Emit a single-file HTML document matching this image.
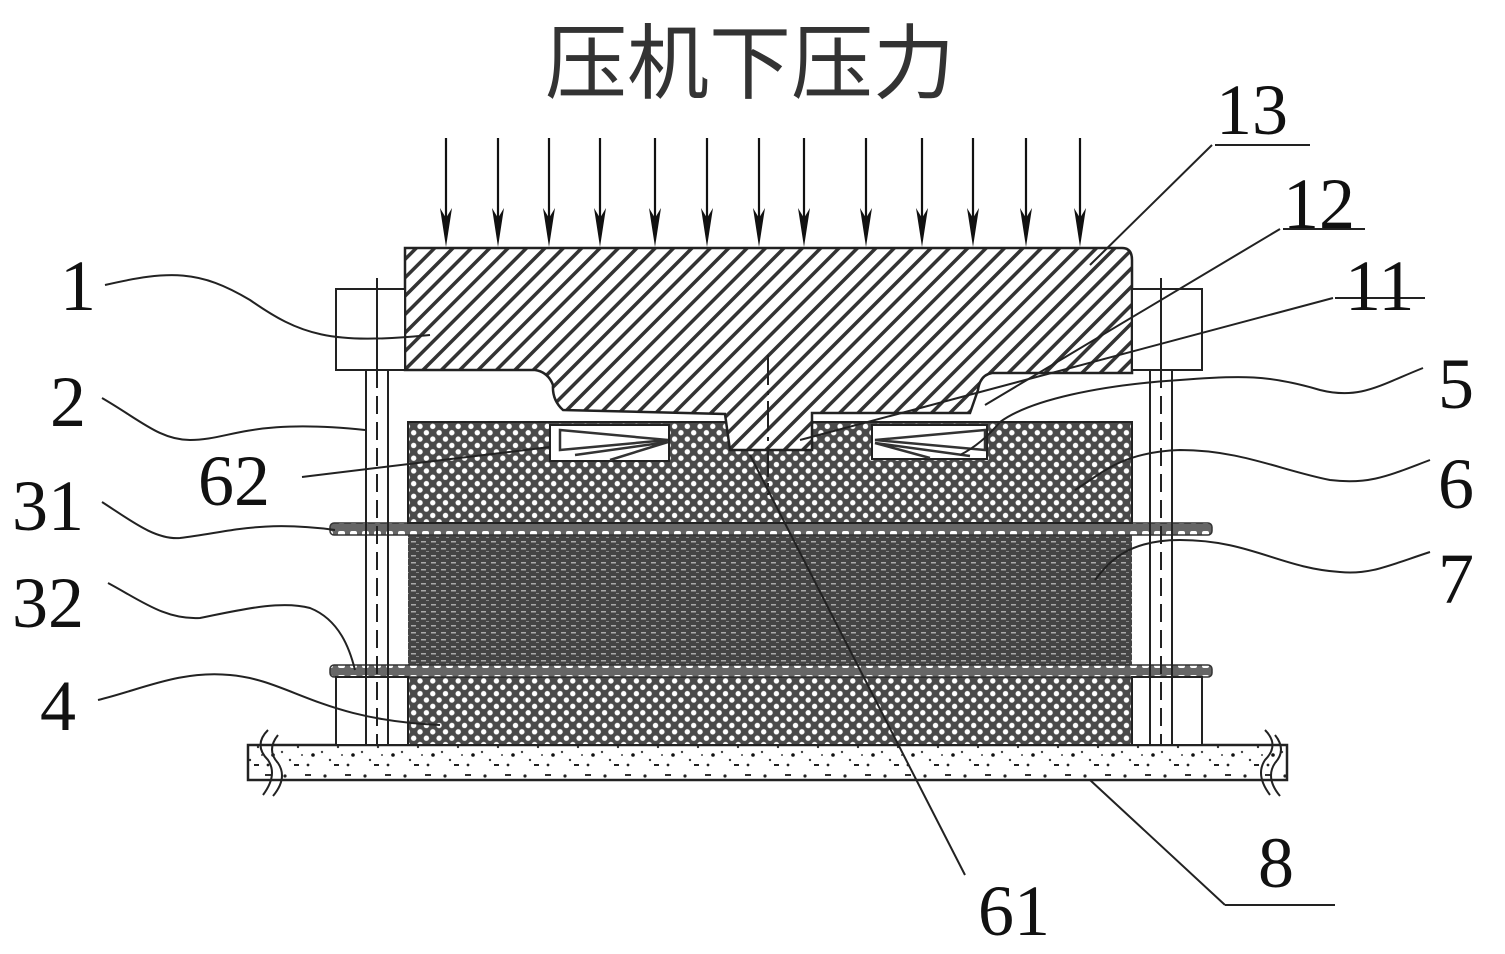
<!DOCTYPE html>
<html><head><meta charset="utf-8"><style>
html,body{margin:0;padding:0;background:#fff;width:1505px;height:954px;overflow:hidden}
svg{display:block}
.n{font-family:"Liberation Serif",serif;font-size:72px;fill:#111}
</style></head><body>
<svg width="1505" height="954" viewBox="0 0 1505 954" xmlns="http://www.w3.org/2000/svg">
<defs>
<pattern id="hatch" width="13" height="13" patternUnits="userSpaceOnUse" patternTransform="rotate(-45)">
<rect width="13" height="13" fill="#fff"/><rect width="13" height="3.5" fill="#333"/></pattern>
<pattern id="cross" width="9" height="9" patternUnits="userSpaceOnUse" patternTransform="rotate(45)">
<rect width="9" height="9" fill="#4a4a4a"/><circle cx="4.5" cy="4.5" r="2.7" fill="#fff"/></pattern>
<pattern id="dark" width="10" height="7" patternUnits="userSpaceOnUse">
<rect width="10" height="7" fill="#444"/><rect x="1" y="2" width="5" height="1.5" fill="#aaa"/><rect x="6" y="5" width="3" height="1" fill="#888"/></pattern>
<pattern id="plate" width="12" height="12" patternUnits="userSpaceOnUse">
<rect width="12" height="12" fill="#666"/><rect x="2" y="3" width="7" height="5" rx="2" fill="#fff"/></pattern>
<pattern id="speck" width="40" height="35" patternUnits="userSpaceOnUse">
<rect width="40" height="35" fill="#fff"/>
<circle cx="5" cy="6" r="1.6" fill="#222"/><circle cx="18" cy="12" r="1.2" fill="#333"/><rect x="25" y="4" width="6" height="2" fill="#333"/>
<circle cx="33" cy="20" r="1.8" fill="#111"/><circle cx="10" cy="25" r="1.2" fill="#333"/><rect x="14" y="29" width="5" height="2" fill="#222"/>
<circle cx="28" cy="30" r="1.4" fill="#222"/><circle cx="2" cy="17" r="1.2" fill="#444"/><circle cx="22" cy="20" r="1" fill="#444"/></pattern>
</defs>

<text x="750" y="92" text-anchor="middle" font-family="'Liberation Sans','Noto Sans CJK SC',sans-serif" font-size="82" fill="#333">压机下压力</text>

<g stroke="#111" stroke-width="2.2">
<line x1="446" y1="138" x2="446" y2="235"/><line x1="498" y1="138" x2="498" y2="235"/><line x1="549" y1="138" x2="549" y2="235"/>
<line x1="600" y1="138" x2="600" y2="235"/><line x1="655" y1="138" x2="655" y2="235"/><line x1="707" y1="138" x2="707" y2="235"/>
<line x1="759" y1="138" x2="759" y2="235"/><line x1="804" y1="138" x2="804" y2="235"/><line x1="866" y1="138" x2="866" y2="235"/>
<line x1="922" y1="138" x2="922" y2="235"/><line x1="973" y1="138" x2="973" y2="235"/><line x1="1026" y1="138" x2="1026" y2="235"/>
<line x1="1080" y1="138" x2="1080" y2="235"/>
</g>
<g fill="#111">
<path d="M440,208 L446,247 L452,208 L446,218Z"/><path d="M492,208 L498,247 L504,208 L498,218Z"/><path d="M543,208 L549,247 L555,208 L549,218Z"/>
<path d="M594,208 L600,247 L606,208 L600,218Z"/><path d="M649,208 L655,247 L661,208 L655,218Z"/><path d="M701,208 L707,247 L713,208 L707,218Z"/>
<path d="M753,208 L759,247 L765,208 L759,218Z"/><path d="M798,208 L804,247 L810,208 L804,218Z"/><path d="M860,208 L866,247 L872,208 L866,218Z"/>
<path d="M916,208 L922,247 L928,208 L922,218Z"/><path d="M967,208 L973,247 L979,208 L973,218Z"/><path d="M1020,208 L1026,247 L1032,208 L1026,218Z"/>
<path d="M1074,208 L1080,247 L1086,208 L1080,218Z"/>
</g>

<!-- base 8 -->
<rect x="248" y="745" width="1039" height="35" fill="url(#speck)" stroke="#222" stroke-width="2.5"/>
<path d="M268,730 q-15,15 0,30 q10,15 -5,35 M278,735 q-12,15 0,28 q10,15 -5,33" stroke="#222" stroke-width="2" fill="none"/>
<path d="M1265,730 q15,15 0,30 q-10,15 5,35 M1275,735 q12,15 0,28 q-10,15 5,33" stroke="#222" stroke-width="2" fill="none"/>

<!-- layers -->
<rect x="408" y="677" width="724" height="68" fill="url(#cross)" stroke="#222" stroke-width="2"/>
<rect x="408" y="535" width="724" height="130" fill="url(#dark)"/>
<rect x="330" y="665" width="882" height="12" rx="4" fill="url(#plate)" stroke="#333" stroke-width="1.5"/>
<rect x="330" y="523" width="882" height="12" rx="4" fill="url(#plate)" stroke="#333" stroke-width="1.5"/>
<rect x="408" y="422" width="724" height="101" fill="url(#cross)" stroke="#222" stroke-width="2"/>

<!-- pockets & springs -->
<rect x="550" y="425" width="119" height="36" fill="#fff" stroke="#222" stroke-width="2"/>
<path d="M560,430 L668,440 L560,450 Z M575,455 L668,442 L610,460" fill="none" stroke="#333" stroke-width="2.5"/>
<rect x="872" y="425" width="115" height="34" fill="#fff" stroke="#222" stroke-width="2"/>
<path d="M985,430 L875,440 L985,450 Z M970,456 L875,443 L930,458" fill="none" stroke="#333" stroke-width="2.5"/>

<!-- top block 13 -->
<path d="M405,248 L1122,248 Q1132,248 1132,260 L1132,373 L992,373 Q980,375 978,390 L970,413 L812,413 L812,450 L730,450 L725,414 L563,410 Q552,400 553,385 Q548,372 535,370 L405,370 Z" fill="url(#hatch)" stroke="#222" stroke-width="2.5"/>

<!-- side boxes and columns -->
<g fill="#fff" stroke="#222" stroke-width="2">
<rect x="336" y="289" width="69" height="81"/><rect x="1132" y="289" width="70" height="81"/>
<rect x="336" y="677" width="72" height="68"/><rect x="1132" y="677" width="70" height="68"/>
</g>
<g stroke="#222" stroke-width="2">
<line x1="366" y1="370" x2="366" y2="745"/><line x1="388" y1="370" x2="388" y2="745"/>
<line x1="1150" y1="370" x2="1150" y2="745"/><line x1="1172" y1="370" x2="1172" y2="745"/>
<line x1="377" y1="278" x2="377" y2="370"/><line x1="1161" y1="278" x2="1161" y2="370"/>
</g>
<g stroke="#222" stroke-width="2" stroke-dasharray="18,8">
<line x1="377" y1="370" x2="377" y2="745"/><line x1="1161" y1="370" x2="1161" y2="745"/>
<line x1="768" y1="355" x2="768" y2="495" stroke-dasharray="30,6,4,6"/>
</g>

<!-- leaders -->
<g stroke="#222" stroke-width="2" fill="none">
<path d="M105,285 C170,270 200,270 250,300 C300,335 330,345 430,335"/>
<path d="M102,398 C140,420 160,440 190,440 C230,440 250,418 365,430"/>
<path d="M302,477 L310,476 L550,447"/>
<path d="M102,502 C130,520 155,540 180,538 C230,532 260,520 335,530"/>
<path d="M108,583 C140,600 165,620 200,618 C240,610 280,600 310,608 C340,620 350,650 355,670"/>
<path d="M98,700 C140,690 180,670 230,675 C290,680 320,720 440,725"/>
<path d="M1215,145 L1310,145 M1212,145 L1090,265"/>
<path d="M1283,229 L1365,229 M1280,229 L985,405"/>
<path d="M1335,298 L1425,298 M1333,298 L800,440"/>
<path d="M1423,368 C1380,385 1360,400 1320,390 C1270,375 1240,375 1180,380 C1100,385 1030,400 1000,422 C985,440 970,450 960,455"/>
<path d="M1430,460 C1390,475 1370,485 1330,480 C1280,470 1240,450 1180,450 C1120,452 1100,475 1075,490"/>
<path d="M1430,552 C1390,565 1370,575 1340,572 C1280,568 1250,540 1180,540 C1130,540 1110,560 1095,580"/>
<path d="M1225,905 L1335,905 M1225,905 L1090,780"/>
<path d="M965,875 L750,455"/>
</g>

<g class="n">
<text x="1216" y="134">13</text>
<text x="1283" y="228">12</text>
<text x="1345" y="310">11</text>
<text x="1438" y="408">5</text>
<text x="1438" y="508">6</text>
<text x="1438" y="603">7</text>
<text x="1258" y="887">8</text>
<text x="978" y="935">61</text>
<text x="60" y="310">1</text>
<text x="50" y="426">2</text>
<text x="198" y="505">62</text>
<text x="12" y="530">31</text>
<text x="12" y="627">32</text>
<text x="40" y="730">4</text>
</g>
</svg>
</body></html>
